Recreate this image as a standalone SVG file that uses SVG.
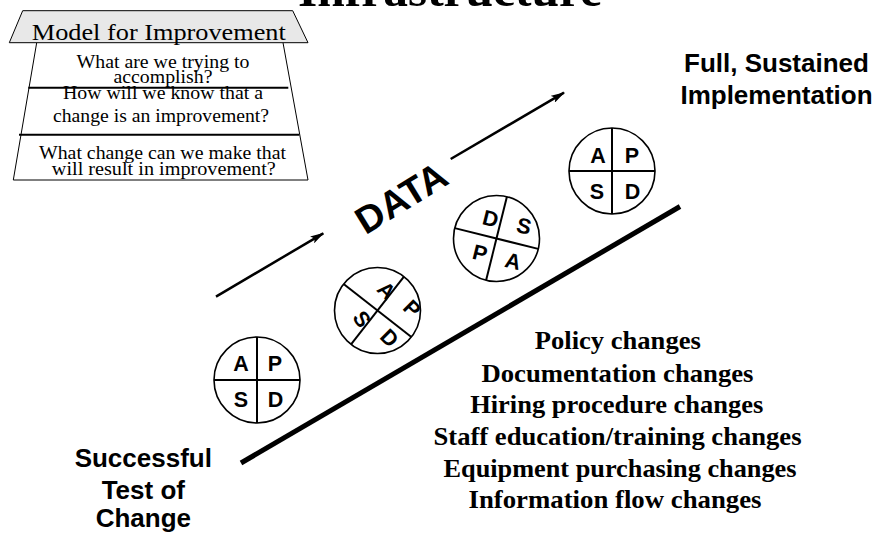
<svg xmlns="http://www.w3.org/2000/svg" width="878" height="535" viewBox="0 0 878 535">
<style>
.serif{font-family:"Liberation Serif","Times New Roman",serif}
.sans{font-family:"Liberation Sans",Arial,sans-serif;font-weight:bold}
.q{font-size:18.5px;text-anchor:middle;fill:#000}
.lst{font-size:25px;font-weight:bold;text-anchor:middle}
.lbl{font-size:26px;text-anchor:middle}
.ring{fill:#fff;stroke:#000;stroke-width:1.6}
.cross{stroke:#000;stroke-width:2}
.ltr{font-size:21.5px;text-anchor:middle}
.arr{stroke:#000;stroke-width:2.5;fill:none;marker-end:url(#ah)}
</style>
<defs>
<marker id="ah" viewBox="0 0 14 8" refX="13" refY="4" markerWidth="14" markerHeight="8" markerUnits="userSpaceOnUse" orient="auto">
<path d="M0,0 L14,4 L0,8 L3,4 z" fill="#000"/>
</marker>
</defs>
<rect width="878" height="535" fill="#fff"/>
<text class="serif" x="450" y="6" font-size="48" font-weight="bold" text-anchor="middle" textLength="304" lengthAdjust="spacingAndGlyphs">Infrastructure</text>

<g id="model">
<path d="M36.7,42.7 L13.3,180 L308,180 L283,42.7" fill="#fff" stroke="#000" stroke-width="1"/>
<path d="M22.7,10.7 L292.7,10.7 L308,42.7 L9.3,42.7 z" fill="#e8e8e8" stroke="#000" stroke-width="1"/>
<line x1="28.3" y1="87.7" x2="288.3" y2="87.7" stroke="#000" stroke-width="2"/>
<line x1="19" y1="134.7" x2="299.3" y2="134.7" stroke="#000" stroke-width="2"/>
<text class="serif" x="158.8" y="40" font-size="23" text-anchor="middle" textLength="254" lengthAdjust="spacingAndGlyphs">Model for Improvement</text>
<text class="serif q" x="163" y="68" textLength="173" lengthAdjust="spacingAndGlyphs">What are we trying to</text>
<text class="serif q" x="163" y="83" textLength="99" lengthAdjust="spacingAndGlyphs">accomplish?</text>
<text class="serif q" x="163" y="99" textLength="200" lengthAdjust="spacingAndGlyphs">How will we know that a</text>
<text class="serif q" x="161" y="121.7" textLength="216" lengthAdjust="spacingAndGlyphs">change is an improvement?</text>
<text class="serif q" x="162.5" y="159" textLength="247" lengthAdjust="spacingAndGlyphs">What change can we make that</text>
<text class="serif q" x="163.8" y="175" textLength="224" lengthAdjust="spacingAndGlyphs">will result in improvement?</text>
</g>

<g id="connectors">
<line x1="241" y1="463" x2="680" y2="206.5" stroke="#000" stroke-width="5"/>
<line class="arr" x1="216" y1="296.7" x2="323.3" y2="233.3"/>
<line class="arr" x1="450.7" y1="159" x2="564" y2="92.7"/>
</g>

<g id="data-label">
<text class="sans" transform="translate(401.3,198) rotate(-31.5)" x="0" y="13" font-size="38" text-anchor="middle">DATA</text>
</g>

<g id="pdsa1">
<circle class="ring" cx="257" cy="380" r="43"/>
<line class="cross" x1="214" y1="380" x2="300" y2="380"/>
<line class="cross" x1="257" y1="337" x2="257" y2="423"/>
<text class="sans ltr" x="241" y="370.5">A</text>
<text class="sans ltr" x="275" y="370.5">P</text>
<text class="sans ltr" x="241" y="406.5">S</text>
<text class="sans ltr" x="275.5" y="406.5">D</text>
</g>

<g id="pdsa2">
<circle class="ring" cx="377.5" cy="310.5" r="43"/>
<g transform="translate(377.5,310.5) rotate(38)">
<line class="cross" x1="-43" y1="0" x2="43" y2="0"/>
<line class="cross" x1="0" y1="-43" x2="0" y2="43"/>
</g>
<text class="sans ltr" transform="translate(386.5,290.5) rotate(45)" y="7.5">A</text>
<text class="sans ltr" transform="translate(412,308.5) rotate(45)" y="7.5">P</text>
<text class="sans ltr" transform="translate(362,319) rotate(55)" y="7.5">S</text>
<text class="sans ltr" transform="translate(389.5,338) rotate(45)" y="7.5">D</text>
</g>

<g id="pdsa3">
<circle class="ring" cx="496.5" cy="238.5" r="43"/>
<g transform="translate(496.5,238.5) rotate(14)">
<line class="cross" x1="-43" y1="0" x2="43" y2="0"/>
<line class="cross" x1="0" y1="-43" x2="0" y2="43"/>
</g>
<text class="sans ltr" transform="translate(490.5,218.5) rotate(14)" y="7.5">D</text>
<text class="sans ltr" transform="translate(524,226) rotate(14)" y="7.5">S</text>
<text class="sans ltr" transform="translate(480,253) rotate(14)" y="7.5">P</text>
<text class="sans ltr" transform="translate(513,261) rotate(14)" y="7.5">A</text>
</g>

<g id="pdsa4">
<circle class="ring" cx="612" cy="171" r="43"/>
<line class="cross" x1="569" y1="171" x2="655" y2="171"/>
<line class="cross" x1="612" y1="128" x2="612" y2="214"/>
<text class="sans ltr" x="598" y="162.5">A</text>
<text class="sans ltr" x="632" y="162.5">P</text>
<text class="sans ltr" x="597" y="198.5">S</text>
<text class="sans ltr" x="632.5" y="198.5">D</text>
</g>

<g id="full-implementation">
<text class="sans lbl" x="776.5" y="72">Full, Sustained</text>
<text class="sans lbl" x="776.5" y="104">Implementation</text>
</g>

<g id="successful-test">
<text class="sans lbl" x="143.3" y="466.7">Successful</text>
<text class="sans lbl" x="143.3" y="499.3">Test of</text>
<text class="sans lbl" x="143.3" y="527">Change</text>
</g>

<g id="changes-list">
<text class="serif lst" x="617.8" y="349.3" textLength="166" lengthAdjust="spacingAndGlyphs">Policy changes</text>
<text class="serif lst" x="617.5" y="381.7" textLength="272" lengthAdjust="spacingAndGlyphs">Documentation changes</text>
<text class="serif lst" x="616.7" y="413.3" textLength="293" lengthAdjust="spacingAndGlyphs">Hiring procedure changes</text>
<text class="serif lst" x="617.5" y="445" textLength="368" lengthAdjust="spacingAndGlyphs">Staff education/training changes</text>
<text class="serif lst" x="620" y="476.7" textLength="353" lengthAdjust="spacingAndGlyphs">Equipment purchasing changes</text>
<text class="serif lst" x="615" y="508.3" textLength="293" lengthAdjust="spacingAndGlyphs">Information flow changes</text>
</g>
</svg>
